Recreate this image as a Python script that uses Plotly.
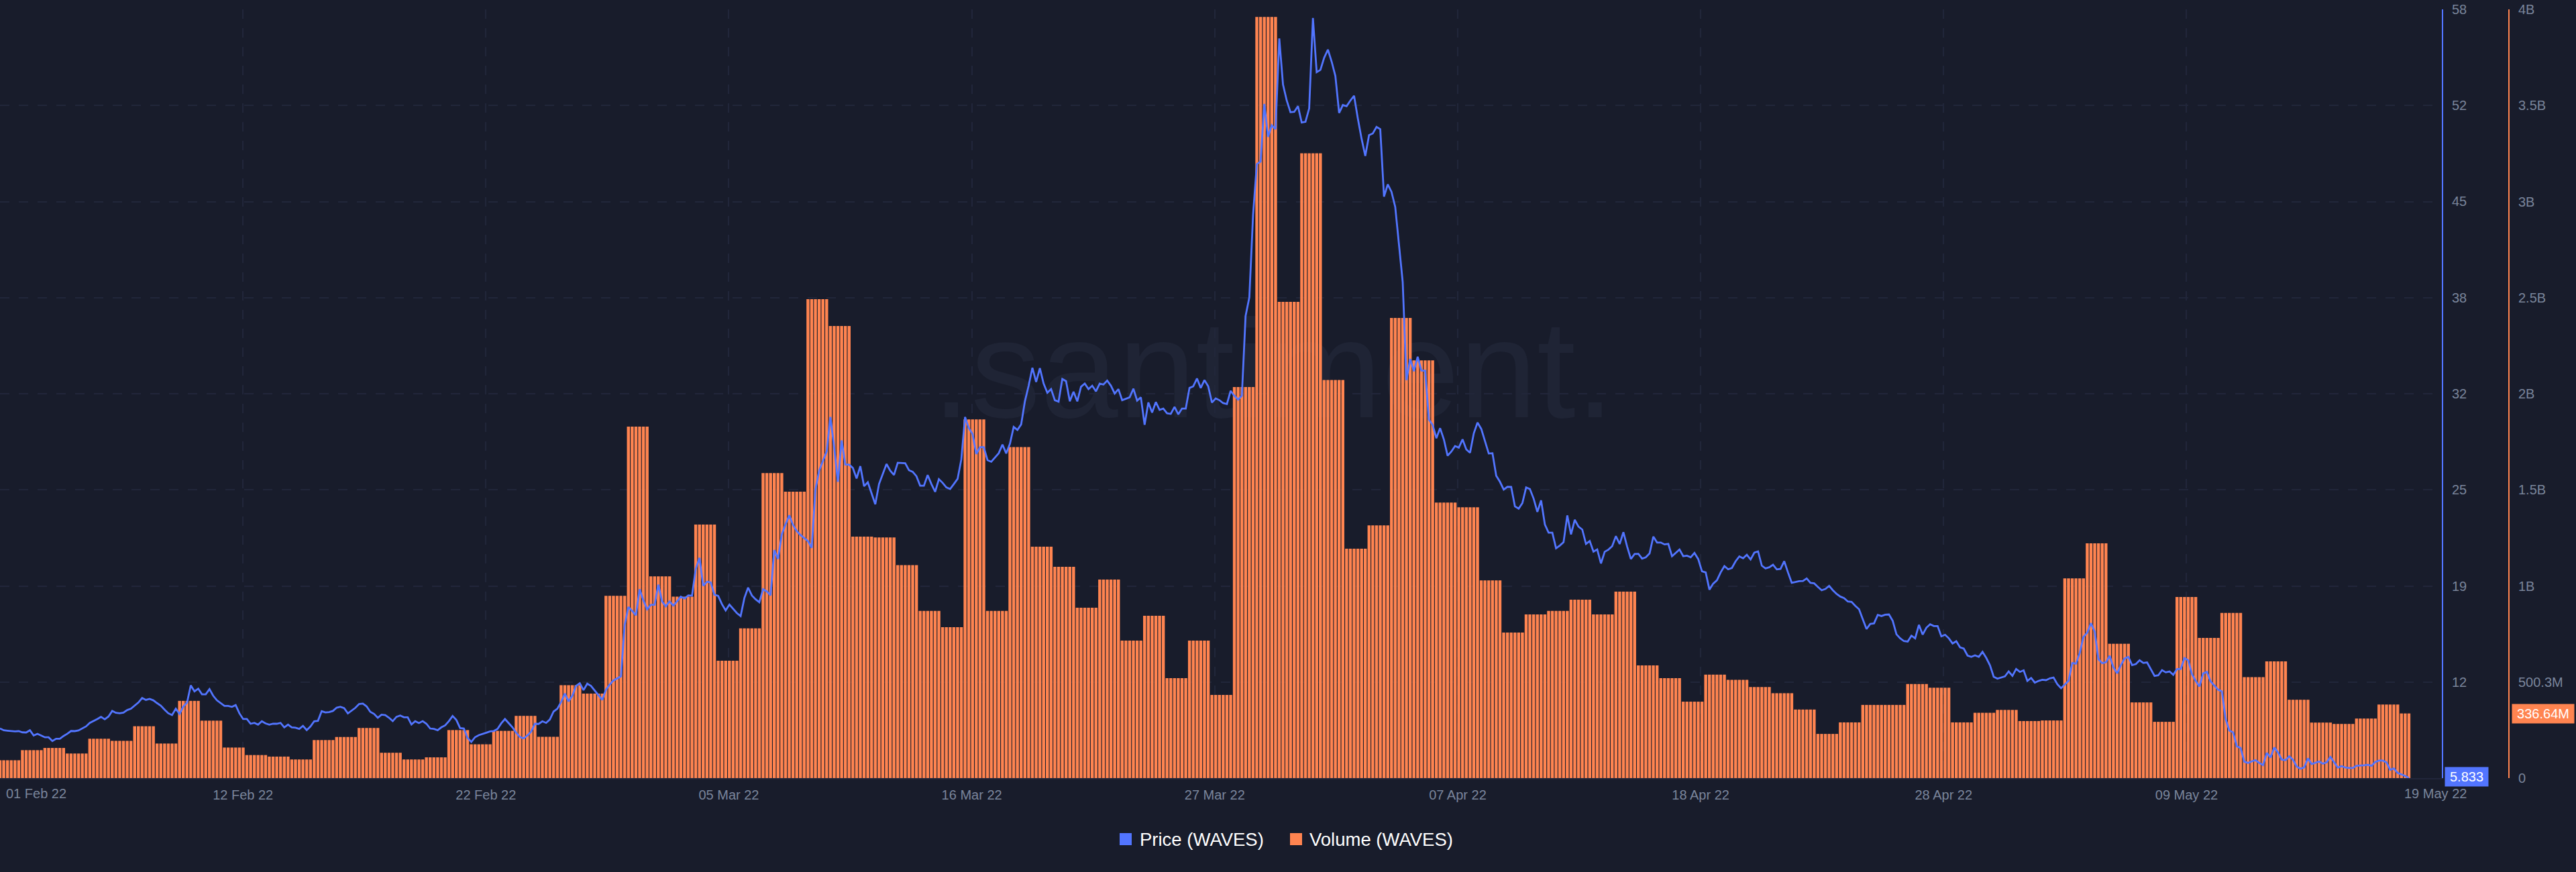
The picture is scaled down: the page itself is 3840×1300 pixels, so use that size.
import pandas as pd
import plotly.graph_objects as go

# chart colours
BG = "#181c2b"
BLUE = "#5275ff"
ORANGE = "#ff8450"
GRID = "#21263a"
TICK = "#7a859b"

# daily traded volume, one value per day from 01 Feb 22
volume_daily = [
    93e6, 145.5e6, 157e6, 128e6, 205e6, 194e6, 270e6, 180e6, 402e6, 299e6, 159e6, 120e6,
    112e6, 97e6, 198e6, 214e6, 261e6, 132e6, 97e6, 108e6, 250e6, 176e6, 246e6, 324e6,
    215e6, 484e6, 440e6, 949e6, 1830e6, 1050e6, 945e6, 1320e6, 611e6, 780e6, 1588e6, 1491e6,
    2493e6, 2354e6, 1257e6, 1253e6, 1109e6, 870e6, 786e6, 1867e6, 870e6, 1723e6, 1205e6, 1100e6,
    887e6, 1034e6, 716e6, 845e6, 520e6, 716e6, 433e6, 2036e6, 3963e6, 2479e6, 3253e6, 2073e6,
    1194e6, 1316e6, 2396e6, 2175e6, 1434e6, 1410e6, 1029e6, 758e6, 852e6, 870e6, 929e6, 852e6,
    971e6, 587e6, 520e6, 398e6, 539e6, 512e6, 474e6, 442e6, 357e6, 230e6, 290e6, 381e6,
    381e6, 490e6, 471e6, 290e6, 340e6, 355e6, 297e6, 300e6, 1040e6, 1222e6, 699e6, 394e6,
    293e6, 943e6, 730e6, 860e6, 526e6, 608e6, 408e6, 289e6, 282e6, 310e6, 383e6, 336.64e6,
]

# price every 4 hours
price = [
    9.20, 9.08, 9.05, 9.02, 9.00, 9.02, 8.94, 8.93, 9.08, 8.72, 8.84, 8.72,
    8.60, 8.60, 8.35, 8.50, 8.50, 8.69, 8.84, 9.03, 9.02, 9.07, 9.19, 9.34,
    9.58, 9.70, 9.84, 9.99, 9.82, 10.01, 10.39, 10.26, 10.23, 10.28, 10.45, 10.54,
    10.73, 10.96, 11.27, 11.14, 11.21, 11.11, 10.92, 10.75, 10.48, 10.23, 10.11, 10.54,
    10.19, 10.69, 10.95, 12.13, 11.72, 11.90, 11.52, 11.52, 11.87, 11.42, 11.11, 10.92,
    10.73, 10.73, 10.67, 10.79, 10.23, 9.84, 9.84, 9.52, 9.58, 9.46, 9.69, 9.54,
    9.46, 9.52, 9.52, 9.58, 9.28, 9.46, 9.28, 9.25, 9.17, 9.38, 9.09, 9.34,
    9.69, 9.72, 10.37, 10.29, 10.31, 10.39, 10.61, 10.67, 10.58, 10.22, 10.43, 10.60,
    10.86, 10.89, 10.70, 10.33, 10.19, 9.93, 10.14, 10.11, 9.93, 9.70, 9.99, 10.08,
    9.96, 9.96, 9.47, 9.69, 9.57, 9.70, 9.52, 9.20, 9.17, 9.08, 9.28, 9.41,
    9.70, 10.05, 9.78, 9.23, 9.20, 8.56, 8.29, 8.61, 8.75, 8.82, 8.91, 9.00,
    9.03, 9.17, 9.55, 9.84, 9.58, 9.28, 8.91, 8.62, 8.53, 8.73, 8.99, 9.52,
    9.51, 9.69, 9.58, 9.81, 10.35, 10.54, 10.99, 11.57, 11.04, 11.42, 12.09, 12.27,
    11.80, 12.24, 12.09, 11.77, 11.42, 11.14, 11.83, 12.18, 12.46, 12.62, 12.74, 16.23,
    17.44, 17.18, 16.88, 18.65, 17.90, 17.29, 17.59, 17.59, 18.96, 17.82, 17.49, 17.82,
    17.55, 17.82, 18.15, 18.02, 18.23, 18.21, 20.02, 20.78, 18.88, 19.16, 19.11, 18.28,
    18.20, 17.64, 17.21, 17.61, 17.33, 17.03, 16.83, 18.05, 18.76, 18.23, 17.97, 17.77,
    18.65, 18.50, 18.24, 21.31, 20.70, 22.37, 23.05, 23.66, 23.02, 22.60, 22.33, 22.14,
    21.92, 21.46, 25.41, 26.70, 27.38, 28.00, 30.34, 28.30, 25.94, 28.75, 27.11, 27.11,
    26.88, 26.17, 27.00, 25.64, 25.91, 25.18, 24.42, 25.79, 26.47, 27.15, 26.70, 26.40,
    27.23, 27.21, 27.20, 26.73, 26.62, 26.32, 25.67, 25.67, 26.40, 25.79, 25.26, 26.12,
    25.87, 25.56, 25.45, 25.79, 26.14, 27.46, 30.34, 29.58, 29.20, 27.83, 28.29, 28.29,
    27.41, 27.30, 27.58, 27.88, 28.47, 27.87, 28.52, 29.66, 29.46, 29.84, 31.40, 32.46,
    33.68, 32.72, 33.65, 32.61, 31.98, 32.23, 31.48, 31.38, 32.92, 32.77, 31.40, 32.05,
    31.40, 32.39, 32.61, 32.23, 32.46, 32.08, 32.60, 32.54, 32.81, 32.46, 31.93, 32.23,
    31.48, 31.58, 31.67, 32.26, 31.45, 31.67, 29.81, 31.32, 30.64, 31.35, 30.82, 30.91,
    30.59, 30.55, 31.02, 30.52, 30.91, 30.91, 32.31, 32.42, 32.95, 32.31, 32.84, 32.43,
    31.32, 31.60, 31.48, 31.28, 31.22, 32.11, 31.78, 31.52, 31.78, 37.20, 38.46, 44.07,
    47.50, 47.67, 51.58, 49.35, 50.14, 49.87, 56.03, 52.90, 51.81, 51.02, 51.05, 51.43,
    50.32, 50.37, 51.28, 57.42, 53.74, 53.90, 54.72, 55.27, 54.46, 53.48, 50.97, 51.51,
    51.43, 51.81, 52.14, 50.60, 49.23, 48.05, 49.47, 49.58, 50.02, 49.87, 45.29, 46.12,
    45.62, 44.60, 42.10, 39.50, 32.84, 34.28, 33.45, 34.43, 33.49, 33.48, 30.16, 29.81,
    28.90, 29.58, 28.82, 27.71, 27.99, 28.37, 28.26, 28.82, 28.14, 27.91, 29.23, 29.96,
    29.53, 28.74, 27.86, 27.88, 26.35, 25.94, 25.41, 25.60, 25.59, 24.27, 24.12, 24.50,
    25.56, 25.45, 24.80, 23.90, 24.68, 23.05, 22.49, 22.49, 21.43, 21.61, 21.84, 23.66,
    22.37, 23.36, 22.90, 22.70, 21.73, 21.92, 21.20, 21.35, 20.40, 21.19, 21.34, 21.57,
    22.25, 21.72, 22.52, 21.54, 20.70, 21.04, 21.05, 20.73, 20.82, 21.08, 22.22, 21.82,
    21.82, 21.69, 21.73, 20.89, 21.13, 21.35, 20.89, 20.93, 20.82, 21.11, 20.70, 19.87,
    19.79, 18.62, 19.03, 19.26, 19.79, 20.22, 20.00, 20.09, 20.55, 20.88, 20.75, 20.99,
    20.67, 21.13, 21.22, 20.25, 20.06, 20.14, 20.31, 20.00, 20.03, 20.55, 19.79, 19.09,
    19.14, 19.20, 19.21, 19.38, 19.08, 19.05, 18.81, 18.58, 18.67, 18.88, 18.58, 18.33,
    18.15, 18.05, 17.82, 17.79, 17.52, 17.29, 16.61, 15.95, 16.30, 16.33, 16.91, 16.83,
    16.92, 16.94, 16.50, 15.59, 15.32, 15.13, 15.10, 15.50, 15.32, 16.23, 15.57, 16.04,
    16.27, 16.15, 16.15, 15.45, 15.56, 15.32, 14.97, 15.12, 14.71, 14.62, 14.15, 14.06,
    14.16, 14.06, 14.40, 13.99, 13.49, 12.71, 12.58, 12.66, 12.74, 13.07, 12.77, 13.24,
    13.04, 13.15, 12.43, 12.63, 12.31, 12.43, 12.51, 12.48, 12.60, 12.66, 12.21, 11.93,
    12.18, 12.43, 13.65, 13.60, 14.33, 15.42, 15.70, 16.35, 15.77, 13.90, 13.63, 13.69,
    14.13, 13.35, 12.94, 13.50, 13.95, 14.06, 13.50, 13.57, 13.83, 13.65, 13.68, 13.19,
    12.77, 12.81, 13.16, 13.01, 13.07, 12.84, 13.24, 13.24, 13.98, 13.83, 12.89, 12.43,
    12.05, 12.94, 13.04, 12.39, 12.13, 11.83, 11.72, 9.85, 9.05, 8.94, 7.99, 7.88,
    6.94, 6.86, 6.97, 7.05, 6.86, 6.71, 7.55, 7.23, 7.91, 7.58, 7.09, 7.05,
    7.31, 7.08, 6.62, 6.47, 6.56, 7.17, 6.79, 6.86, 6.96, 6.81, 6.90, 7.27,
    6.93, 6.55, 6.64, 6.55, 6.52, 6.52, 6.67, 6.67, 6.70, 6.74, 6.67, 6.93,
    7.02, 7.02, 6.90, 6.40, 6.49, 6.18, 6.08, 5.98, 5.833,
]

date_labels = ["", "12 Feb 22", "22 Feb 22", "05 Mar 22", "16 Mar 22", "27 Mar 22",
               "07 Apr 22", "18 Apr 22", "28 Apr 22", "09 May 22"]
price_ticks = [12.35, 18.87, 25.39, 31.92, 38.44, 44.96, 51.48, 58]
price_labels = ["12", "19", "25", "32", "38", "45", "52", "58"]
volume_ticks = [0, 500.25e6, 1000.5e6, 1500.75e6, 2001e6, 2501.25e6, 3001.5e6, 3501.75e6, 4002e6]
volume_labels = ["0", "500.3M", "1B", "1.5B", "2B", "2.5B", "3B", "3.5B", "4B"]

W, H = 3840, 1300
PLOT_R, PLOT_T, PLOT_B = 3640, 14, 1160


def px(x):
    return x / W


def py(y):
    # pixel row to paper coordinate of the plot area
    return (PLOT_B - y) / (PLOT_B - PLOT_T)


start = pd.Timestamp("2022-02-01")
times = pd.date_range(start, periods=len(price), freq="4h")
volume = [volume_daily[i // 6] for i in range(len(price))]
tick_times = [start + pd.Timedelta(hours=259.8 * k) for k in range(len(date_labels))]

fig = go.Figure()
fig.add_trace(go.Bar(
    x=times, y=volume, name="Volume (WAVES)", yaxis="y",
    width=4 * 3600 * 1000 * 0.8,
    marker=dict(color=ORANGE, line=dict(width=0)),
    showlegend=False,
))
fig.add_trace(go.Scatter(
    x=times, y=price, name="Price (WAVES)", yaxis="y2", mode="lines",
    line=dict(color=BLUE, width=2.8),
    showlegend=False,
))

font_ticks = dict(family="Liberation Sans", size=20, color=TICK)

fig.update_layout(
    width=W, height=H,
    margin=dict(l=0, r=0, t=PLOT_T, b=H - PLOT_B, pad=0),
    paper_bgcolor=BG, plot_bgcolor=BG,
    bargap=0.1,
    xaxis=dict(
        domain=[0, PLOT_R / W],
        range=[start, start + pd.Timedelta(hours=4 * 652.8)],
        tickmode="array", tickvals=tick_times, ticktext=date_labels,
        tickfont=font_ticks, ticks="", ticklabelstandoff=6,
        showgrid=True, gridcolor=GRID, gridwidth=1.5, griddash="14px,14px",
        showline=True, linecolor=GRID, linewidth=1.5, zeroline=False,
    ),
    yaxis=dict(
        range=[0, 4002e6], anchor="free", position=3740 / W, side="right",
        tickmode="array", tickvals=volume_ticks, ticktext=volume_labels,
        tickfont=font_ticks, ticks="", ticklabelstandoff=9,
        showgrid=True, gridcolor=GRID, gridwidth=1.5, griddash="14px,14px",
        showline=True, linecolor=ORANGE, linewidth=2, zeroline=False,
    ),
    yaxis2=dict(
        range=[5.833, 58], overlaying="y", anchor="x", side="right",
        tickmode="array", tickvals=price_ticks, ticktext=price_labels,
        tickfont=font_ticks, ticks="", ticklabelstandoff=9,
        showgrid=False,
        showline=True, linecolor=BLUE, linewidth=2, zeroline=False,
    ),
    shapes=[
        # watermark sits under the marks
        dict(type="rect", xref="paper", yref="paper", layer="below",
             x0=px(1396), x1=px(2400), y0=py(655), y1=py(405),
             fillcolor="rgba(0,0,0,0)", line=dict(width=0),
             label=dict(text=".santiment.", textposition="middle center",
                        font=dict(family="Liberation Sans", size=208, color="#1f2435"))),
        # legend swatches
        dict(type="rect", xref="paper", yref="paper", x0=px(1669), x1=px(1687),
             y0=py(1260), y1=py(1242), fillcolor=BLUE, line=dict(width=0)),
        dict(type="rect", xref="paper", yref="paper", x0=px(1923), x1=px(1941),
             y0=py(1260), y1=py(1242), fillcolor=ORANGE, line=dict(width=0)),
    ],
    annotations=[
        dict(text="01 Feb 22", xref="paper", yref="paper", x=px(54), y=py(1183), showarrow=False,
             xanchor="center", yanchor="middle", font=font_ticks),
        dict(text="19 May 22", xref="paper", yref="paper", x=px(3630), y=py(1183), showarrow=False,
             xanchor="center", yanchor="middle", font=font_ticks),
        dict(text="5.833", xref="paper", yref="y2", x=px(3677), y=price[-1], yshift=2, showarrow=False,
             xanchor="center", yanchor="middle", width=62, height=26, bgcolor=BLUE,
             font=dict(family="Liberation Sans", size=20, color="#ffffff")),
        dict(text="336.64M", xref="paper", yref="y", x=px(3791), y=volume_daily[-1], showarrow=False,
             xanchor="center", yanchor="middle", width=90, height=26, bgcolor=ORANGE,
             font=dict(family="Liberation Sans", size=20, color="#ffffff")),
        dict(text="Price (WAVES)", xref="paper", yref="paper", x=px(1697), y=py(1251), showarrow=False,
             xanchor="left", yanchor="middle",
             font=dict(family="Liberation Sans", size=27.5, color="#ffffff")),
        dict(text="Volume (WAVES)", xref="paper", yref="paper", x=px(1950), y=py(1251), showarrow=False,
             xanchor="left", yanchor="middle",
             font=dict(family="Liberation Sans", size=27.5, color="#ffffff")),
    ],
)

# page has a default body margin, drop it so the plot fills the window
fig.write_html("out.html", config={"displayModeBar": False},
               post_script="document.body.style.margin='0';")
